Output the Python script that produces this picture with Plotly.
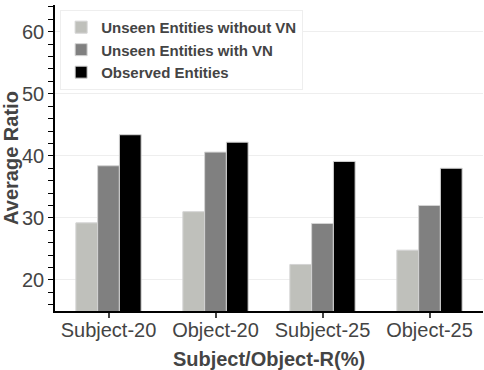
import plotly.graph_objects as go

categories = ["Subject-20", "Object-20", "Subject-25", "Object-25"]
without_vn = [29.2, 31.0, 22.5, 24.8]
with_vn = [38.4, 40.6, 29.1, 32.0]
observed = [43.4, 42.2, 39.1, 38.0]

series = [
    ("Unseen Entities without VN", without_vn, "#bfc0bb"),
    ("Unseen Entities with VN", with_vn, "#808080"),
    ("Observed Entities", observed, "#000000"),
]

fig = go.Figure()
for name, vals, col in series:
    fig.add_trace(go.Bar(
        x=categories, y=vals, name=name,
        marker=dict(color=col, line=dict(color="#d4d4d4", width=1)),
    ))

fig.update_layout(
    width=484, height=370,
    margin=dict(l=55, r=1, t=5, b=59),
    barmode="group", bargap=0.39, bargroupgap=0,
    paper_bgcolor="white", plot_bgcolor="white",
    font=dict(family="Liberation Sans, Arial", color="#444"),
    legend=dict(
        x=0.012, y=0.984, xanchor="left", yanchor="top",
        bgcolor="white", bordercolor="#eeeeee", borderwidth=1,
        font=dict(size=15, color="#444", weight="bold"),
        tracegroupgap=0,
    ),
    showlegend=True,
)

fig.update_xaxes(
    title=dict(text="Subject/Object-R(%)", font=dict(size=20, weight="bold", color="#444"), standoff=13),
    tickfont=dict(size=20, color="#444"),
    showline=True, linecolor="black", linewidth=1.5,
    ticks="outside", ticklen=5, tickcolor="#444", tickwidth=1.5,
    ticklabelstandoff=-5,
    showgrid=False, automargin=False,
)
fig.update_yaxes(
    title=dict(text="Average Ratio", font=dict(size=20, weight="bold", color="#444"), standoff=8),
    tickfont=dict(size=20, color="#444"),
    range=[15, 64.3], tickvals=[20, 30, 40, 50, 60],
    showline=True, linecolor="black", linewidth=1.5,
    ticks="outside", ticklen=5, tickcolor="black",
    minor=dict(dtick=2, tick0=0, ticks="outside", ticklen=5, tickcolor="black", showgrid=False),
    showgrid=True, gridcolor="#eeeeee", gridwidth=1,
    zeroline=False, automargin=False,
)

# drop the default 8px page margin so the figure sits at the window corner
fig.write_html("out.html", config={"displayModeBar": False},
               post_script="document.body.style.margin='0';")
